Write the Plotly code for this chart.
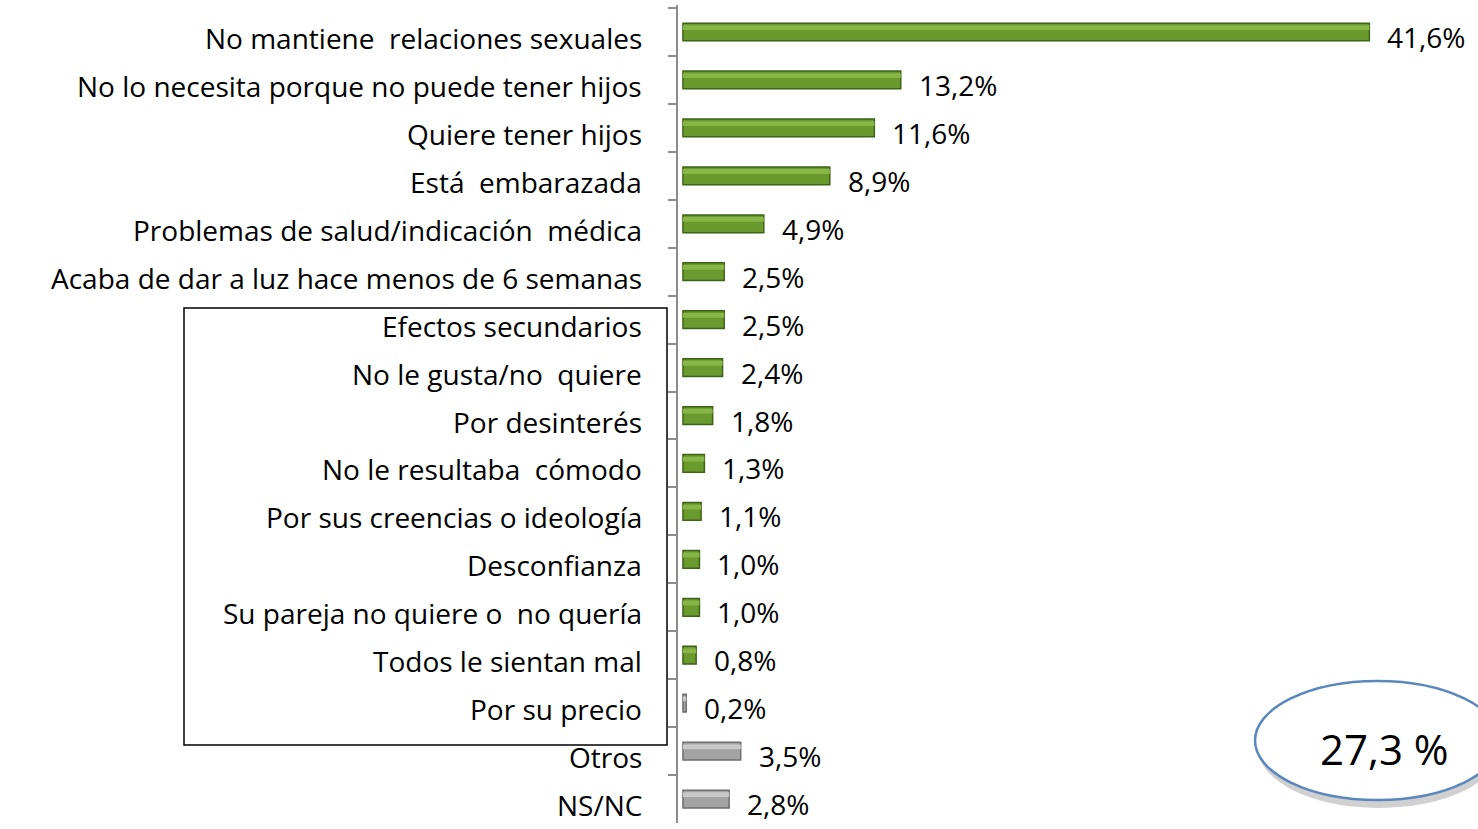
import plotly.graph_objects as go

categories = [
    "No mantiene  relaciones sexuales",
    "No lo necesita porque no puede tener hijos",
    "Quiere tener hijos",
    "Está  embarazada",
    "Problemas de salud/indicación  médica",
    "Acaba de dar a luz hace menos de 6 semanas",
    "Efectos secundarios",
    "No le gusta/no  quiere",
    "Por desinterés",
    "No le resultaba  cómodo",
    "Por sus creencias o ideología",
    "Desconfianza",
    "Su pareja no quiere o  no quería",
    "Todos le sientan mal",
    "Por su precio",
    "Otros",
    "NS/NC",
]
values = [41.6, 13.2, 11.6, 8.9, 4.9, 2.5, 2.5, 2.4, 1.8, 1.3, 1.1, 1.0, 1.0, 0.8, 0.2, 3.5, 2.8]
value_labels = ["41,6%", "13,2%", "11,6%", "8,9%", "4,9%", "2,5%", "2,5%", "2,4%", "1,8%",
                "1,3%", "1,1%", "1,0%", "1,0%", "0,8%", "0,2%", "3,5%", "2,8%"]
gray_categories = ["Por su precio", "Otros", "NS/NC"]
boxed_total = "27,3 %"

colors = ["#a3a3a3" if c in gray_categories else "#6a9a2e" for c in categories]
edge = ["#6e6e6e" if c in gray_categories else "#3d6316" for c in categories]
hi = ["#c9c9c9" if c in gray_categories else "#88b548" for c in categories]

FONT = "Open Sans"

fig = go.Figure()
fig.add_trace(go.Bar(
    y=categories, x=values, orientation="h",
    marker=dict(color=colors, line=dict(color=edge, width=1.5)),
    width=0.37, showlegend=False, hoverinfo="skip",
))
fig.add_trace(go.Bar(
    y=categories, x=values, orientation="h",
    marker=dict(color=hi, line=dict(width=0)),
    width=0.1, offset=-0.14, showlegend=False, hoverinfo="skip",
))

annotations = []
for c, v, t in zip(categories, values, value_labels):
    annotations.append(dict(
        x=v, y=c, xref="x", yref="y", text=t, showarrow=False,
        xanchor="left", yanchor="middle", xshift=16, yshift=-5,
        font=dict(family=FONT, size=28, color="#000000"),
    ))
for c in categories:
    annotations.append(dict(
        x=0, y=c, xref="paper", yref="y", text=c, showarrow=False,
        xanchor="right", yanchor="middle", xshift=-34, yshift=-6,
        font=dict(family=FONT, size=28, color="#000000"),
    ))

L, T, W, H = 678, 5, 800, 818

def px_x(p):
    return (p - L) / W

def px_y(p):
    return (T + H - p) / H

annotations.append(dict(
    x=px_x(1384), y=px_y(748), xref="paper", yref="paper", text=boxed_total,
    showarrow=False, xanchor="center", yanchor="middle",
    font=dict(family=FONT, size=42, color="#000000"),
))

shapes = [
    dict(type="rect", xref="paper", yref="paper",
         x0=px_x(184), x1=px_x(667), y0=px_y(745), y1=px_y(308),
         line=dict(color="#000000", width=1.5), fillcolor="rgba(0,0,0,0)"),
    dict(type="circle", xref="paper", yref="paper",
         x0=px_x(1258), x1=px_x(1500), y0=px_y(808), y1=px_y(688),
         line=dict(width=0), fillcolor="rgba(120,120,120,0.35)", layer="above"),
    dict(type="circle", xref="paper", yref="paper",
         x0=px_x(1255), x1=px_x(1500), y0=px_y(800), y1=px_y(681),
         line=dict(color="#5b87bf", width=2.5), fillcolor="#ffffff", layer="above"),
]

fig.update_layout(
    width=1478, height=829,
    margin=dict(l=L, r=1478 - L - W, t=T, b=829 - T - H, autoexpand=False),
    paper_bgcolor="#ffffff", plot_bgcolor="#ffffff",
    barmode="overlay",
    annotations=annotations, shapes=shapes,
    xaxis=dict(range=[-0.3, -0.3 + W / 16.5], visible=False, fixedrange=True),
    yaxis=dict(
        autorange="reversed", type="category",
        showline=True, linecolor="#8c8c8c", linewidth=2,
        ticks="outside", ticklen=8, tickcolor="#8c8c8c", tickwidth=2,
        tickson="boundaries", showticklabels=False,
        showgrid=False, zeroline=False,
    ),
)

fig.write_html("out.html", config={"displayModeBar": False},
               post_script="document.body.style.margin='0';document.body.style.overflow='hidden';")
